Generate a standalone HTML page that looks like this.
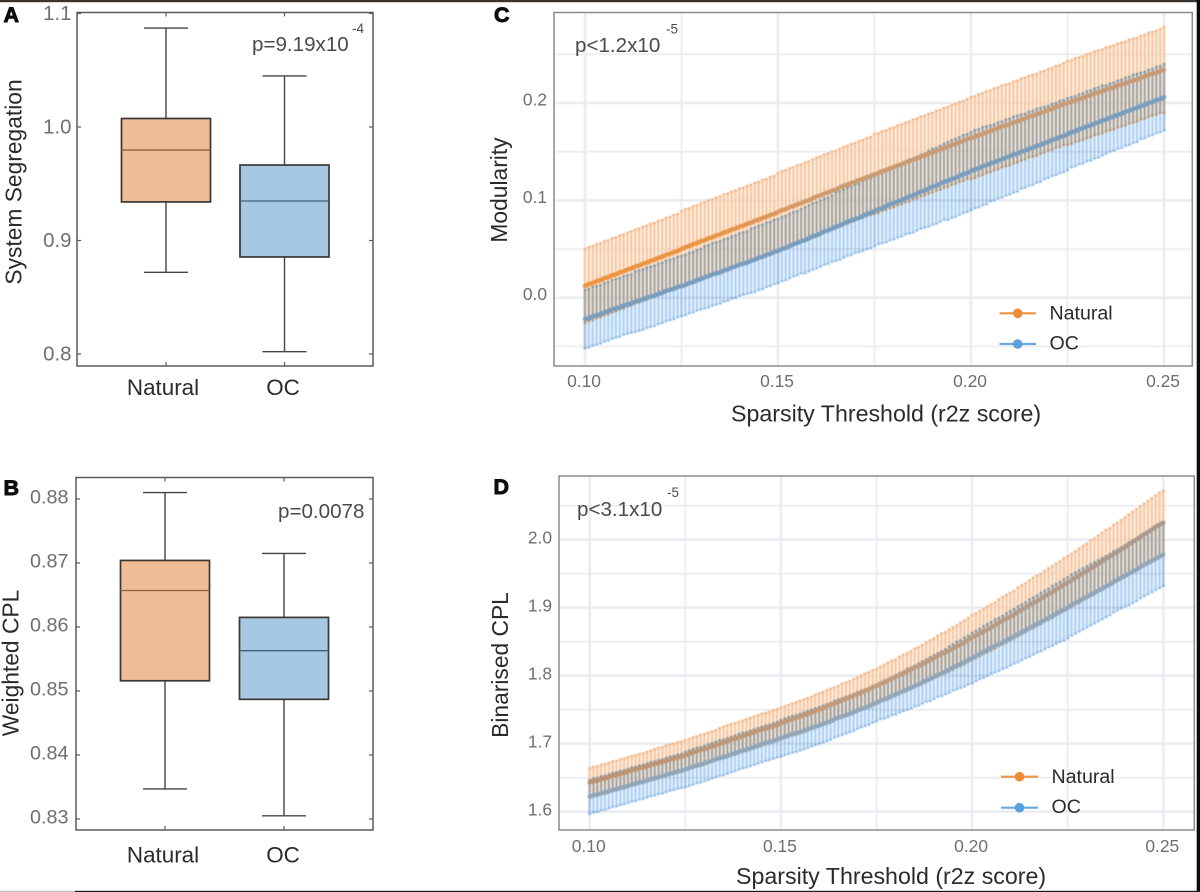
<!DOCTYPE html>
<html lang="en">
<head>
<meta charset="utf-8">
<title>Brain network metrics: Natural vs OC</title>
<style>
html,body{margin:0;padding:0;background:#fff;width:1200px;height:892px;overflow:hidden}
svg{display:block;font-family:"Liberation Sans",Arial,sans-serif}
.soft{filter:blur(.35px)}
.softer{filter:blur(.5px)}
.tick{fill:#6f6f73}
.title{fill:#2b2b2b}
.ptext{fill:#4a4a4a}
.letter{fill:#0c0c0c;stroke:#0c0c0c;stroke-width:.9px;font-weight:bold;font-size:21.5px}
</style>
</head>
<body>
<svg id="figure" width="1200" height="892" viewBox="0 0 1200 892" xmlns="http://www.w3.org/2000/svg">
  <rect width="1200" height="892" fill="#ffffff"/>
  <rect x="0" y="0" width="1200" height="2.2" fill="#3b332d"/>
  <rect x="1196.7" y="0" width="3.3" height="892" fill="#0b0b0b"/>
  <rect x="75" y="890.8" width="1125" height="1.2" fill="#1c1c1c"/>
  <rect x="0" y="890.8" width="75" height="1.2" fill="#bdbdbd"/>
  <defs>
    <linearGradient id="natLineC" gradientUnits="userSpaceOnUse" x1="585" y1="0" x2="1164" y2="0">
      <stop offset="0" stop-color="#ec9340"/><stop offset=".24" stop-color="#ea9445"/><stop offset=".42" stop-color="#cc9b72"/><stop offset="1" stop-color="#c69a78"/>
    </linearGradient>
    <linearGradient id="natLineD" gradientUnits="userSpaceOnUse" x1="590" y1="0" x2="1163" y2="0">
      <stop offset="0" stop-color="#bd9270"/><stop offset=".5" stop-color="#c39d7d"/><stop offset="1" stop-color="#a89a90"/>
    </linearGradient>
  </defs>

  <g id="panelA"></g>
  <g id="panelB"></g>
  <g id="panelC"></g>
  <g id="panelD"></g>

  <text class="letter" x="3.5" y="22">A</text>
  <text class="letter" x="3.5" y="495">B</text>
  <text class="letter" x="494" y="22">C</text>
  <text class="letter" x="493.5" y="494">D</text>

  <text class="title" font-size="22.8" text-anchor="middle" transform="translate(21.5 182) rotate(-90)">System Segregation</text>
  <text class="title" font-size="22.8" text-anchor="middle" transform="translate(18.5 663) rotate(-90)">Weighted CPL</text>
  <text class="title" font-size="22.8" text-anchor="middle" transform="translate(507 190) rotate(-90)">Modularity</text>
  <text class="title" font-size="22.8" text-anchor="middle" transform="translate(508 665) rotate(-90)">Binarised CPL</text>

  <text class="title" font-size="23.2" x="731" y="421.5">Sparsity Threshold (r2z score)</text>
  <text class="title" font-size="23.2" x="736" y="884">Sparsity Threshold (r2z score)</text>

  <text class="ptext" font-size="20.6" x="252" y="51">p=9.19x10</text>
  <text class="ptext" font-size="13.5" x="352" y="33">-4</text>
  <text class="ptext" font-size="20.6" x="278" y="518">p=0.0078</text>
  <text class="ptext" font-size="20.6" x="575" y="52">p&lt;1.2x10</text>
  <text class="ptext" font-size="13.5" x="666" y="33.5">-5</text>
  <text class="ptext" font-size="20.6" x="577" y="516">p&lt;3.1x10</text>
  <text class="ptext" font-size="13.5" x="667" y="497">-5</text>

  <g>
    <g>
      <line x1="999.5" x2="1036" y1="313.3" y2="313.3" stroke="#ee9544" stroke-width="2.2"/>
      <circle cx="1017.7" cy="313.3" r="4.8" fill="#ee8b36"/>
      <text class="title" font-size="19.6" x="1049.5" y="319.5">Natural</text>
    </g>
    <g>
      <line x1="999.5" x2="1036" y1="344" y2="344" stroke="#69a8e0" stroke-width="2.2"/>
      <circle cx="1017.7" cy="344" r="4.8" fill="#5b9fdc"/>
      <text class="title" font-size="19.6" x="1049.5" y="349.5">OC</text>
    </g>
  </g>
  <g>
    <g>
      <line x1="1001" x2="1038" y1="776.7" y2="776.7" stroke="#ee9544" stroke-width="2.2"/>
      <circle cx="1019.5" cy="776.7" r="4.8" fill="#ee8b36"/>
      <text class="title" font-size="19.6" x="1051.5" y="783">Natural</text>
    </g>
    <g>
      <line x1="1001" x2="1038" y1="807.7" y2="807.7" stroke="#69a8e0" stroke-width="2.2"/>
      <circle cx="1019.5" cy="807.7" r="4.8" fill="#5b9fdc"/>
      <text class="title" font-size="19.6" x="1051.5" y="813">OC</text>
    </g>
  </g>
</svg>

<script>
// ---------- Box plot data: [lower whisker, q1, median, q3, upper whisker] ----------
const boxCategories = ["Natural", "OC"];
const segregationNatural = [0.872, 0.934, 0.9797, 1.0075, 1.0872];
const segregationOC = [0.802, 0.8855, 0.9348, 0.9665, 1.045];
const segregationTicks = [0.8, 0.9, 1.0, 1.1];
const segregationTickLabels = ["0.8", "0.9", "1.0", "1.1"];
const cplNatural = [0.8347, 0.8516, 0.8657, 0.8704, 0.881];
const cplOC = [0.8305, 0.8487, 0.8563, 0.8615, 0.8715];
const cplTicks = [0.83, 0.84, 0.85, 0.86, 0.87, 0.88];
const cplTickLabels = ["0.83", "0.84", "0.85", "0.86", "0.87", "0.88"];

// ---------- Line panels: one entry per sparsity threshold, 0.100 to 0.250 in 0.001 steps ----------
const thresholdStart = 0.1;
const thresholdStep = 0.001;
const thresholdTicks = [0.10, 0.15, 0.20, 0.25];
const thresholdTickLabels = ["0.10", "0.15", "0.20", "0.25"];
const thresholdMinorTicks = [0.125, 0.175, 0.225];

const modularityTicks = [0.0, 0.1, 0.2];
const modularityTickLabels = ["0.0", "0.1", "0.2"];
const modularityMinorTicks = [-0.05, 0.05, 0.15, 0.25];
const binarisedTicks = [1.6, 1.7, 1.8, 1.9, 2.0];
const binarisedTickLabels = ["1.6", "1.7", "1.8", "1.9", "2.0"];
const binarisedMinorTicks = [1.65, 1.75, 1.85, 1.95, 2.05];

const modularityNaturalMean = [
0.012,0.014,0.015,0.017,0.018,0.020,0.021,0.023,0.024,0.026,0.027,0.029,0.030,0.032,0.033,0.035,0.036,0.038,0.039,0.041,0.042,0.044,0.045,0.047,0.048,0.050,
0.052,0.053,0.055,0.056,0.058,0.059,0.061,0.062,0.064,0.065,0.067,0.068,0.070,0.071,0.073,0.074,0.076,0.077,0.079,0.080,0.082,0.083,0.085,0.086,0.088,
0.090,0.091,0.093,0.094,0.096,0.097,0.099,0.100,0.102,0.104,0.105,0.107,0.108,0.110,0.111,0.113,0.115,0.116,0.118,0.119,0.121,0.122,0.124,0.125,0.127,
0.128,0.130,0.131,0.133,0.134,0.136,0.137,0.139,0.140,0.142,0.143,0.145,0.146,0.148,0.149,0.151,0.152,0.154,0.155,0.157,0.158,0.160,0.161,0.163,0.164,
0.165,0.167,0.168,0.170,0.171,0.173,0.174,0.176,0.177,0.178,0.180,0.181,0.183,0.184,0.186,0.187,0.188,0.190,0.191,0.193,0.194,0.196,0.197,0.199,0.200,
0.201,0.203,0.204,0.205,0.207,0.208,0.210,0.211,0.212,0.214,0.215,0.216,0.218,0.219,0.220,0.222,0.223,0.224,0.226,0.227,0.229,0.230,0.231,0.233,0.234];
const modularityNaturalError = [
0.038,0.038,0.038,0.038,0.038,0.038,0.038,0.038,0.038,0.038,0.038,0.038,0.038,0.038,0.038,0.038,0.038,0.038,0.038,0.038,0.038,0.038,0.038,0.038,0.038,
0.039,0.039,0.039,0.039,0.039,0.039,0.039,0.039,0.039,0.039,0.039,0.039,0.039,0.039,0.039,0.039,0.039,0.039,0.039,0.039,0.039,0.039,0.039,0.039,0.039,
0.040,0.040,0.040,0.040,0.040,0.040,0.040,0.040,0.040,0.040,0.040,0.040,0.040,0.040,0.040,0.040,0.040,0.040,0.040,0.040,0.040,0.040,0.040,0.040,0.040,
0.041,0.041,0.041,0.041,0.041,0.041,0.041,0.041,0.041,0.041,0.041,0.041,0.041,0.041,0.041,0.041,0.041,0.041,0.041,0.041,0.041,0.041,0.041,0.041,0.041,
0.042,0.042,0.042,0.042,0.042,0.042,0.042,0.042,0.042,0.042,0.042,0.042,0.042,0.042,0.042,0.042,0.042,0.042,0.042,0.042,0.042,0.042,0.042,0.042,0.042,
0.043,0.043,0.043,0.043,0.043,0.043,0.043,0.043,0.043,0.043,0.043,0.043,0.043,0.043,0.043,0.043,0.043,0.043,0.043,0.043,0.043,0.043,0.043,0.043,0.043,0.044];
const modularityOCMean = [
-0.022,-0.021,-0.019,-0.018,-0.017,-0.015,-0.014,-0.012,-0.011,-0.010,-0.008,-0.007,-0.006,-0.004,-0.003,-0.002,0.000,0.001,0.002,0.004,0.005,0.007,0.008,0.009,0.011,0.012,
0.013,0.015,0.016,0.018,0.019,0.021,0.022,0.024,0.025,0.026,0.028,0.029,0.031,0.032,0.034,0.035,0.036,0.038,0.039,0.041,0.042,0.044,0.045,0.047,0.048,
0.050,0.051,0.053,0.055,0.056,0.058,0.059,0.061,0.063,0.064,0.066,0.068,0.069,0.071,0.073,0.074,0.076,0.078,0.079,0.081,0.082,0.084,0.086,0.087,0.089,
0.091,0.092,0.094,0.096,0.097,0.099,0.100,0.102,0.104,0.105,0.107,0.109,0.110,0.112,0.114,0.115,0.117,0.119,0.120,0.122,0.123,0.125,0.127,0.128,0.130,
0.132,0.133,0.135,0.136,0.138,0.139,0.141,0.142,0.144,0.145,0.147,0.148,0.150,0.151,0.153,0.154,0.156,0.157,0.159,0.160,0.162,0.163,0.165,0.166,0.168,
0.170,0.171,0.173,0.174,0.176,0.177,0.179,0.180,0.182,0.183,0.185,0.186,0.188,0.189,0.191,0.192,0.194,0.195,0.197,0.198,0.200,0.201,0.203,0.204,0.206];
const modularityOCError = [
0.030,0.030,0.030,0.030,0.030,0.030,0.030,0.030,0.030,0.030,0.030,0.030,0.030,
0.031,0.031,0.031,0.031,0.031,0.031,0.031,0.031,0.031,0.031,0.031,0.031,0.031,0.031,0.031,0.031,0.031,0.031,
0.032,0.032,0.032,0.032,0.032,0.032,0.032,0.032,0.032,0.032,0.032,0.032,
0.033,0.033,0.033,0.033,0.033,0.033,0.033,0.033,0.033,0.033,0.033,0.033,0.033,0.033,
0.034,0.034,0.034,0.034,0.034,0.034,0.034,0.034,
0.035,0.035,0.035,0.035,0.035,0.035,0.035,
0.036,0.036,0.036,0.036,0.036,0.036,
0.037,0.037,0.037,0.037,0.037,0.037,
0.038,0.038,0.038,0.038,0.038,
0.039,0.039,0.039,0.039,0.039,
0.040,0.040,0.040,0.040,0.040,0.040,0.040,0.040,0.040,0.040,0.040,
0.039,0.039,0.039,0.039,0.039,0.039,0.039,0.039,
0.038,0.038,0.038,0.038,0.038,0.038,
0.037,0.037,0.037,0.037,0.037,0.037,0.037,
0.036,0.036,0.036,0.036,0.036,0.036,0.036,0.036,0.036,
0.035,0.035,0.035,0.035,0.035,0.035,0.035,0.035,0.035,
0.034,0.034,0.034,0.034,0.034,0.034,0.034];

const binarisedNaturalMean = [
1.643,1.645,1.646,1.648,1.649,1.651,1.653,1.654,1.656,1.657,1.659,1.661,1.662,1.664,1.665,1.667,1.669,1.670,1.672,1.673,1.675,1.677,1.678,1.680,1.681,1.683,
1.685,1.687,1.689,1.691,1.692,1.694,1.696,1.698,1.700,1.702,1.704,1.706,1.707,1.709,1.711,1.713,1.715,1.717,1.719,1.721,1.722,1.724,1.726,1.728,1.730,
1.732,1.734,1.736,1.738,1.740,1.742,1.744,1.746,1.748,1.750,1.752,1.755,1.757,1.759,1.761,1.764,1.766,1.768,1.771,1.773,1.775,1.778,1.780,1.783,1.785,
1.788,1.790,1.793,1.796,1.798,1.801,1.804,1.806,1.809,1.812,1.814,1.817,1.820,1.823,1.826,1.829,1.832,1.834,1.837,1.840,1.843,1.846,1.849,1.853,1.856,
1.859,1.862,1.865,1.868,1.871,1.874,1.878,1.881,1.884,1.887,1.890,1.894,1.897,1.900,1.904,1.907,1.910,1.913,1.917,1.920,1.923,1.927,1.930,1.934,1.937,
1.940,1.944,1.947,1.951,1.954,1.958,1.961,1.965,1.968,1.972,1.975,1.979,1.982,1.986,1.989,1.993,1.997,2.000,2.004,2.008,2.011,2.015,2.019,2.022,2.025];
const binarisedNaturalError = [
0.021,0.021,0.021,0.021,0.021,0.021,0.021,0.021,0.021,0.021,0.021,0.021,0.021,0.021,0.021,0.021,0.021,
0.022,0.022,0.022,0.022,0.022,0.022,0.022,0.022,0.022,0.022,0.022,0.022,0.022,0.022,0.022,0.022,0.022,
0.023,0.023,0.023,0.023,0.023,0.023,0.023,0.023,0.023,0.023,0.023,0.023,0.023,0.023,0.023,0.023,0.023,0.023,0.023,0.023,0.023,0.023,0.023,0.023,0.023,
0.024,0.024,0.024,0.024,0.024,0.024,0.024,0.024,0.024,0.024,0.024,0.024,
0.025,0.025,0.025,0.025,0.025,0.025,
0.026,0.026,0.026,0.026,
0.027,0.027,0.027,0.027,
0.028,0.028,0.028,
0.029,0.029,0.029,
0.030,0.030,0.030,
0.031,0.031,0.031,
0.032,0.032,0.032,
0.033,0.033,0.033,0.033,
0.034,0.034,0.034,0.034,
0.035,0.035,0.035,0.035,
0.036,0.036,0.036,0.036,
0.037,0.037,0.037,0.037,
0.038,0.038,0.038,0.038,
0.039,0.039,0.039,0.039,
0.040,0.040,0.040,
0.041,0.041,0.041,
0.042,0.042,0.042,
0.043,0.043,0.043,
0.044,0.044,0.044,
0.045,0.045,0.045,
0.046,0.046,0.046,
0.047,0.047];
const binarisedOCMean = [
1.622,1.624,1.625,1.627,1.628,1.630,1.632,1.633,1.635,1.636,1.638,1.640,1.641,1.643,1.644,1.646,1.648,1.649,1.651,1.652,1.654,1.656,1.657,1.659,1.660,1.662,
1.664,1.666,1.668,1.669,1.671,1.673,1.675,1.677,1.679,1.680,1.682,1.684,1.686,1.688,1.690,1.691,1.693,1.695,1.697,1.699,1.701,1.702,1.704,1.706,1.708,
1.710,1.712,1.714,1.715,1.717,1.719,1.721,1.723,1.725,1.727,1.729,1.731,1.733,1.736,1.738,1.740,1.742,1.744,1.746,1.749,1.751,1.753,1.755,1.758,1.760,
1.763,1.765,1.767,1.770,1.772,1.775,1.777,1.780,1.782,1.785,1.787,1.790,1.793,1.795,1.798,1.801,1.803,1.806,1.809,1.812,1.815,1.817,1.820,1.823,1.826,
1.829,1.832,1.835,1.838,1.841,1.844,1.846,1.849,1.852,1.855,1.858,1.861,1.864,1.867,1.870,1.873,1.876,1.879,1.882,1.885,1.888,1.891,1.894,1.897,1.900,
1.904,1.907,1.910,1.913,1.916,1.919,1.922,1.925,1.928,1.931,1.934,1.938,1.941,1.944,1.947,1.950,1.953,1.956,1.960,1.963,1.966,1.969,1.972,1.975,1.978];
const binarisedOCError = [
0.025,0.025,0.025,0.025,0.025,0.025,0.025,0.025,0.025,0.025,0.025,0.025,0.025,0.025,0.025,0.025,0.025,0.025,0.025,0.025,0.025,0.025,0.025,0.025,0.025,
0.026,0.026,0.026,0.026,0.026,0.026,0.026,0.026,0.026,0.026,0.026,0.026,0.026,0.026,0.026,0.026,0.026,0.026,0.026,0.026,0.026,0.026,0.026,0.026,0.026,
0.027,0.027,0.027,0.027,0.027,0.027,0.027,0.027,0.027,0.027,0.027,0.027,0.027,0.027,0.027,0.027,0.027,0.027,0.027,0.027,0.027,0.027,0.027,0.027,0.027,0.027,0.027,
0.028,0.028,0.028,
0.029,0.029,0.029,
0.030,0.030,0.030,
0.031,0.031,0.031,
0.032,0.032,0.032,
0.033,0.033,
0.034,0.034,
0.035,0.035,
0.036,0.036,
0.037,0.037,0.037,
0.038,0.038,0.038,
0.039,0.039,0.039,
0.040,0.040,0.040,
0.041,0.041,0.041,
0.042,0.042,0.042,
0.043,0.043,0.043,
0.044,0.044,0.044,
0.045,0.045,0.045,0.045,0.045,0.045,0.045,0.045,0.045,0.045,0.045,0.045,0.045,0.045,0.045,0.045,0.045,
0.046,0.046,0.046,0.046,0.046,0.046,0.046,0.046,0.046,0.046];

// ---------- Axis functions ----------
const NS = "http://www.w3.org/2000/svg";
function yA(v) { return 127 - (v - 1.0) * 1135; }
function yB(v) { return 627 - (v - 0.86) * 6400; }
function xC(v) { return 585 + (v - 0.1) * 3860; }
function yC(v) { return 297.7 - v * 973.5; }
function xD(v) { return 589.7 + (v - 0.1) * 3824; }
function yD(v) { return 811.7 - (v - 1.6) * 680; }

function make(parent, tag, attrs, text) {
  const el = document.createElementNS(NS, tag);
  for (const k in attrs) el.setAttribute(k, attrs[k]);
  if (text !== undefined) el.textContent = text;
  parent.appendChild(el);
  return el;
}

function drawBox(parent, name, stats, cx, y, fill, medianColor) {
  const g = make(parent, "g", {});
  
  
  const boxHalf = 44.5, capHalf = 22;
  const upper = make(g, "line", { x1: cx, x2: cx, y1: y(stats[4]), y2: y(stats[3]), stroke: "#444", "stroke-width": 1.4 });
  
  
  const lower = make(g, "line", { x1: cx, x2: cx, y1: y(stats[1]), y2: y(stats[0]), stroke: "#444", "stroke-width": 1.4 });
  
  
  const capTop = make(g, "line", { x1: cx - capHalf, x2: cx + capHalf, y1: y(stats[4]), y2: y(stats[4]), stroke: "#444", "stroke-width": 1.4 });
  
  
  const capBottom = make(g, "line", { x1: cx - capHalf, x2: cx + capHalf, y1: y(stats[0]), y2: y(stats[0]), stroke: "#444", "stroke-width": 1.4 });
  
  
  const rect = make(g, "rect", { x: cx - boxHalf, y: y(stats[3]), width: boxHalf * 2, height: y(stats[1]) - y(stats[3]), fill: fill, stroke: "#3a3734", "stroke-width": 1.7 });
  
  
  const med = make(g, "line", { x1: cx - boxHalf, x2: cx + boxHalf, y1: y(stats[2]), y2: y(stats[2]), stroke: medianColor, "stroke-width": 1.3 });
  
  
}

function drawBoxPanel(id, cfg) {
  const p = document.getElementById(id);
  p.setAttribute('class', 'soft');
  const frame = make(p, "rect", { x: cfg.left, y: cfg.top, width: cfg.right - cfg.left, height: cfg.bottom - cfg.top, fill: "#fff", stroke: "#5a5a5a", "stroke-width": 1.5 });
  
  
  cfg.ticks.forEach(function (t, i) {
    const yy = cfg.y(t);
    const tickL = make(p, "line", { x1: cfg.left, x2: cfg.left + 4, y1: yy, y2: yy, stroke: "#5a5a5a", "stroke-width": 1.2 });
    
    
    const tickR = make(p, "line", { x1: cfg.right - 4, x2: cfg.right, y1: yy, y2: yy, stroke: "#5a5a5a", "stroke-width": 1.2 });
    
    
    const lab = make(p, "text", { x: cfg.labelRight, y: yy + cfg.labelDy, "text-anchor": "end", "font-size": cfg.labelSize, class: "tick" }, cfg.labels[i]);
    
    
  });
  boxCategories.forEach(function (c, i) {
    const cx = cfg.cx(i);
    const tb = make(p, "line", { x1: cx, x2: cx, y1: cfg.bottom - 4, y2: cfg.bottom, stroke: "#5a5a5a", "stroke-width": 1.2 });
    
    
    const tt = make(p, "line", { x1: cx, x2: cx, y1: cfg.top, y2: cfg.top + 4, stroke: "#5a5a5a", "stroke-width": 1.2 });
    
    
    const lab = make(p, "text", { x: cx + (i === 0 ? cfg.natDx : cfg.ocDx), y: cfg.catY, "text-anchor": "middle", "font-size": 22.4, class: "title" }, c);
    
    
  });
  drawBox(p, "box-natural", cfg.natural, cfg.cx(0), cfg.y, "#eebd96", "#8f6238");
  drawBox(p, "box-oc", cfg.oc, cfg.cx(1), cfg.y, "#a6c8e3", "#42607c");
}

function drawLinePanel(id, cfg) {
  const p = document.getElementById(id);
  const soft = make(p, "g", { class: "softer" });
  
  
  const grid = make(soft, "g", { stroke: "#e9eaef" });
  
  
  function gridY(list, w) {
    list.forEach(function (t) {
      const l = make(grid, "line", { x1: cfg.left, x2: cfg.right, y1: cfg.y(t), y2: cfg.y(t), "stroke-width": w });
      
      
    });
  }
  function gridX(list, w) {
    list.forEach(function (t) {
      const l = make(grid, "line", { x1: cfg.x(t), x2: cfg.x(t), y1: cfg.top, y2: cfg.bottom, "stroke-width": w });
      
      
    });
  }
  gridY(cfg.yMinor, 1.6); gridY(cfg.yTicks, 2.4);
  gridX(thresholdMinorTicks, 1.6); gridX(thresholdTicks, 2.4);

  function drawBars(name, mean, err, barColor, capColor, blend) {
    const g = make(soft, "g", {});
    
    
    if (blend) g.style.mixBlendMode = "multiply";
    mean.forEach(function (m, i) {
      const xx = cfg.x(thresholdStart + i * thresholdStep);
      const hi = cfg.y(m + err[i]), lo = cfg.y(m - err[i]);
      make(g, "line", { x1: xx, x2: xx, y1: hi, y2: lo, stroke: barColor, "stroke-width": 2.6 });
      make(g, "line", { x1: xx - 1.6, x2: xx + 1.6, y1: hi, y2: hi, stroke: capColor, "stroke-width": 2 });
      make(g, "line", { x1: xx - 1.6, x2: xx + 1.6, y1: lo, y2: lo, stroke: capColor, "stroke-width": 2 });
    });
  }
  function drawMean(name, mean, stroke, width) {
    const pts = mean.map(function (m, i) {
      return cfg.x(thresholdStart + i * thresholdStep).toFixed(2) + "," + cfg.y(m).toFixed(2);
    }).join(" ");
    const l = make(soft, "polyline", { points: pts, fill: "none", stroke: stroke, "stroke-width": width, "stroke-linecap": "round", "stroke-linejoin": "round" });
    
    
  }
  drawBars("natural-error-bars", cfg.natMean, cfg.natErr, "#f8c9a2", "#f2b482", false);
  drawBars("oc-error-bars", cfg.ocMean, cfg.ocErr, "#b0d2f4", "#8fbce8", true);
  drawMean("natural-mean-line", cfg.natMean, cfg.natStroke, 4.4);
  drawMean("oc-mean-line", cfg.ocMean, cfg.ocStroke, 4.4);

  const frame = make(p, "rect", { x: cfg.left, y: cfg.top, width: cfg.right - cfg.left, height: cfg.bottom - cfg.top, fill: "none", stroke: "#8b8b8d", "stroke-width": 1.5 });
  
  
  thresholdTicks.forEach(function (t, i) {
    const lab = make(p, "text", { x: cfg.x(t) - 1, y: cfg.xLabelY, "text-anchor": "middle", "font-size": 17.4, class: "tick" }, thresholdTickLabels[i]);
    
    
  });
  cfg.yTicks.forEach(function (t, i) {
    const lab = make(p, "text", { x: cfg.yLabelRight, y: cfg.y(t) + cfg.yLabelDy, "text-anchor": "end", "font-size": 17.4, class: "tick" }, cfg.yLabels[i]);
    
    
  });
}

function catXA(i) { return 166 + i * 118.5; }
function catXB(i) { return 165 + i * 119; }

drawBoxPanel("panelA", {
  left: 77, right: 373, top: 12.5, bottom: 366, y: yA, cx: catXA, catY: 395, natDx: -3, ocDx: -1.5,
  ticks: segregationTicks, labels: segregationTickLabels, labelRight: 71.5, labelDy: 6.5, labelSize: 20.4,
  natural: segregationNatural, oc: segregationOC
});
drawBoxPanel("panelB", {
  left: 76, right: 373, top: 477.5, bottom: 830, y: yB, cx: catXB, catY: 862.5, natDx: -2, ocDx: -1,
  ticks: cplTicks, labels: cplTickLabels, labelRight: 68.5, labelDy: 4.5, labelSize: 19.8,
  natural: cplNatural, oc: cplOC
});
drawLinePanel("panelC", {
  left: 554, right: 1192.3, top: 12.5, bottom: 366, x: xC, y: yC,
  yTicks: modularityTicks, yMinor: modularityMinorTicks, yLabels: modularityTickLabels,
  natMean: modularityNaturalMean, natErr: modularityNaturalError,
  ocMean: modularityOCMean, ocErr: modularityOCError,
  natStroke: "url(#natLineC)", ocStroke: "#7a9dbd",
  xLabelY: 387, yLabelRight: 547, yLabelDy: 2.5
});
drawLinePanel("panelD", {
  left: 559, right: 1194.3, top: 476, bottom: 830, x: xD, y: yD,
  yTicks: binarisedTicks, yMinor: binarisedMinorTicks, yLabels: binarisedTickLabels,
  natMean: binarisedNaturalMean, natErr: binarisedNaturalError,
  ocMean: binarisedOCMean, ocErr: binarisedOCError,
  natStroke: "url(#natLineD)", ocStroke: "#92a6b8",
  xLabelY: 852, yLabelRight: 552, yLabelDy: 4
});
</script>
</body>
</html>
